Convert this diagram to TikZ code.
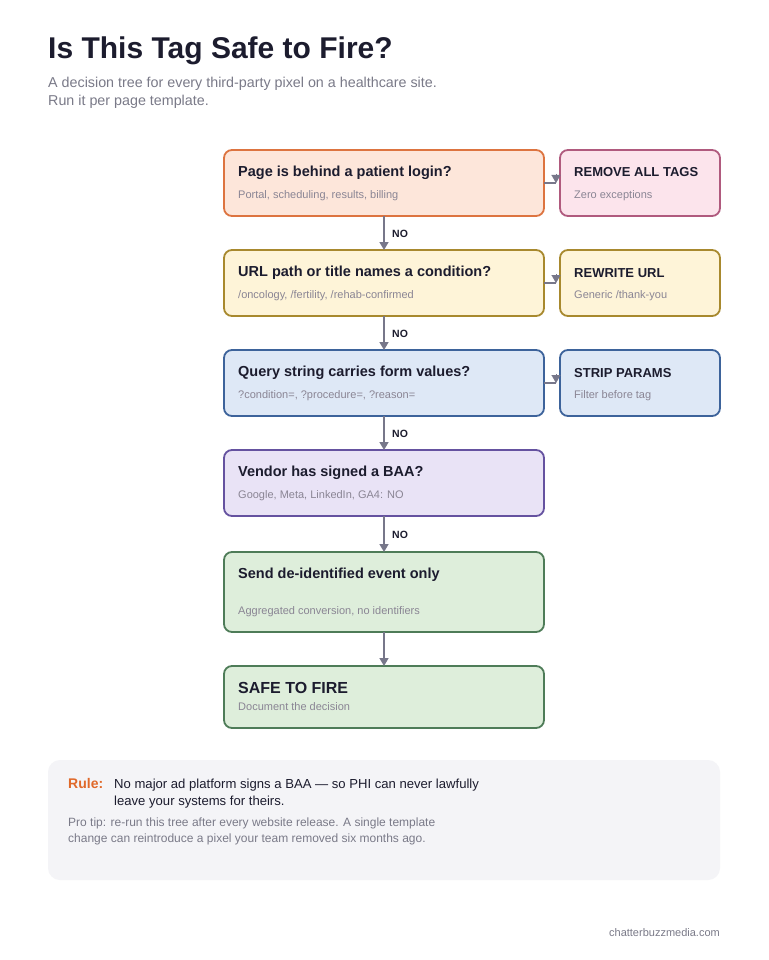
\documentclass[tikz,border=0pt]{standalone}
\usepackage{fontspec}
\setmainfont{Liberation Sans}
\usetikzlibrary{arrows.meta,calc}
\definecolor{ink}{HTML}{1C1C2E}
\definecolor{muted}{HTML}{7A7A88}
\definecolor{submuted}{HTML}{8A8594}
\definecolor{arrowgray}{HTML}{77778A}
\definecolor{fA}{HTML}{FDE6DA}\definecolor{dA}{HTML}{DD7440}
\definecolor{fR}{HTML}{FCE4EC}\definecolor{dR}{HTML}{B05A7E}
\definecolor{fB}{HTML}{FEF4D8}\definecolor{dB}{HTML}{A8892E}
\definecolor{fC}{HTML}{DEE8F6}\definecolor{dC}{HTML}{3D639B}
\definecolor{fD}{HTML}{E9E3F6}\definecolor{dD}{HTML}{6552A0}
\definecolor{fE}{HTML}{DEEEDB}\definecolor{dE}{HTML}{4E7C58}
\definecolor{panel}{HTML}{F4F4F7}
\definecolor{rulec}{HTML}{E0692A}
\tikzset{
  box/.style={rounded corners=8pt, line width=1.8pt, anchor=north west, inner sep=0pt, outer sep=0pt, minimum width=320pt},
  sidebox/.style={box, minimum width=160pt, minimum height=66pt},
  txt/.style={inner sep=0pt, anchor=base west},
  qtitle/.style={txt, text=ink, font={\fontsize{14.5}{17}\selectfont\bfseries}},
  stitle/.style={txt, text=ink, font={\fontsize{13}{16}\selectfont\bfseries}},
  qsub/.style={txt, text=submuted, font={\fontsize{11}{13}\selectfont}},
  nolab/.style={txt, text=ink, font={\fontsize{10.5}{12}\selectfont\bfseries}},
  conn/.style={draw=arrowgray, line width=1.6pt, -{Triangle[length=8pt,width=9pt]}},
  elbow/.style={draw=arrowgray, line width=1.6pt},
}
\begin{document}
\begin{tikzpicture}[x=1pt,y=-1pt]
\useasboundingbox[fill=white] (0,0) rectangle (768,960);
% header
\node[txt, text=ink, font={\fontsize{30}{34}\selectfont\bfseries}] (title) at (48,59) {Is This Tag Safe to Fire?};
\node[txt, text=muted, font={\fontsize{14.3}{17}\selectfont}] (sub1) at (48,88) {A decision tree for every third-party pixel on a healthcare site.};
\node[txt, text=muted, font={\fontsize{14.3}{17}\selectfont}] (sub2) at (48,106) {Run it per page template.};
% main boxes
\node[box, fill=fA, draw=dA, minimum height=66pt] (q1) at (224,150) {};
\node[box, fill=fB, draw=dB, minimum height=66pt] (q2) at (224,250) {};
\node[box, fill=fC, draw=dC, minimum height=66pt] (q3) at (224,350) {};
\node[box, fill=fD, draw=dD, minimum height=66pt] (q4) at (224,450) {};
\node[box, fill=fE, draw=dE, minimum height=80pt] (q5) at (224,552) {};
\node[box, fill=fE, draw=dE, minimum height=62pt] (q6) at (224,666) {};
% side boxes
\node[sidebox, fill=fR, draw=dR] (r1) at (560,150) {};
\node[sidebox, fill=fB, draw=dB] (r2) at (560,250) {};
\node[sidebox, fill=fC, draw=dC] (r3) at (560,350) {};
% texts
\node[qtitle] (q1t) at (238,176) {Page is behind a patient login?};
\node[qsub] (q1s) at (238,198) {Portal, scheduling, results, billing};
\node[qtitle] (q2t) at (238,276) {URL path or title names a condition?};
\node[qsub] (q2s) at (238,298) {/oncology, /fertility, /rehab-confirmed};
\node[qtitle] (q3t) at (238,376) {Query string carries form values?};
\node[qsub] (q3s) at (238,398) {?condition=, ?procedure=, ?reason=};
\node[qtitle] (q4t) at (238,476) {Vendor has signed a BAA?};
\node[qsub] (q4s) at (238,498) {Google, Meta, LinkedIn, GA4: NO};
\node[qtitle] (q5t) at (238,578) {Send de-identified event only};
\node[qsub] (q5s) at (238,614) {Aggregated conversion, no identifiers};
\node[txt, text=ink, font={\fontsize{16}{19}\selectfont\bfseries}] (q6t) at (238,693) {SAFE TO FIRE};
\node[qsub] (q6s) at (238,710) {Document the decision};
\node[stitle] (r1t) at (574,177) {REMOVE ALL TAGS};
\node[qsub] (r1s) at (574,198) {Zero exceptions};
\node[stitle] (r2t) at (574,277) {REWRITE URL};
\node[qsub] (r2s) at (574,298) {Generic /thank-you};
\node[stitle] (r3t) at (574,377) {STRIP PARAMS};
\node[qsub] (r3s) at (574,398) {Filter before tag};
% vertical connectors
\draw[conn] (q1.south) -- (q2.north);
\draw[conn] (q2.south) -- (q3.north);
\draw[conn] (q3.south) -- (q4.north);
\draw[conn] (q4.south) -- (q5.north);
\draw[conn] (q5.south) -- (q6.north);
\node[nolab] (n1) at (392,237) {NO};
\node[nolab] (n2) at (392,337) {NO};
\node[nolab] (n3) at (392,437) {NO};
\node[nolab] (n4) at (392,538) {NO};
% side connectors
\foreach \q/\r in {q1/r1,q2/r2,q3/r3}{
  \coordinate (\q k) at ($(\r.west)+(-4,0)$);
  \coordinate (\q u) at ($(\r.west)+(-4,-9)$);
  \draw[elbow] (\q.east) -- (\q k);
  \draw[draw=arrowgray, line width=0.1pt, -{Triangle[length=8pt,width=9pt]}] (\q u) -- (\q k);
}
% rule panel
\node[anchor=north west, fill=panel, rounded corners=12pt, minimum width=672pt, minimum height=120pt, inner sep=0pt, outer sep=0pt] (panel) at (48,760) {};
\node[txt, text=rulec, font={\fontsize{14}{17}\selectfont\bfseries}] (rule) at (68,788) {Rule:};
\node[txt, text=ink, font={\fontsize{13.1}{16}\selectfont}] (rl1) at (114,788) {No major ad platform signs a BAA — so PHI can never lawfully};
\node[txt, text=ink, font={\fontsize{13.1}{16}\selectfont}] (rl2) at (114,805) {leave your systems for theirs.};
\node[txt, text=muted, font={\fontsize{12}{14}\selectfont}] (pt1) at (68,826) {Pro tip: re-run this tree after every website release. A single template};
\node[txt, text=muted, font={\fontsize{12}{14}\selectfont}] (pt2) at (68,842) {change can reintroduce a pixel your team removed six months ago.};
\node[inner sep=0pt, anchor=base east, text=muted, font={\fontsize{11}{13}\selectfont}] (foot) at (720,936) {chatterbuzzmedia.com};
\end{tikzpicture}
\end{document}
